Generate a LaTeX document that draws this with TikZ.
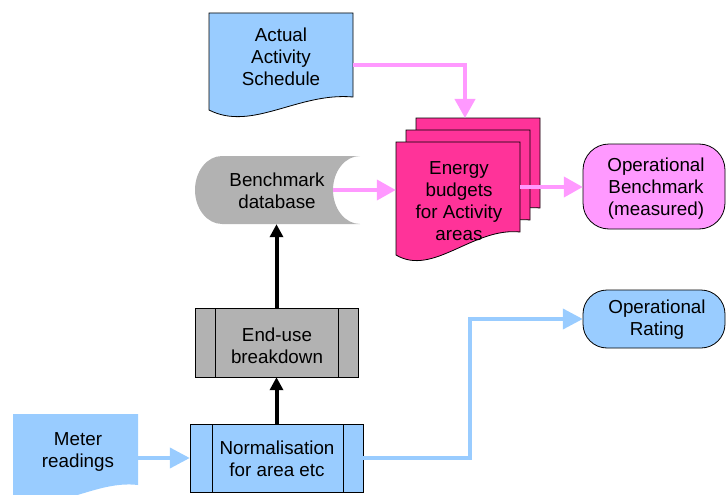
\documentclass[tikz,border=0pt]{standalone}
\usepackage{fontspec}
\setmainfont{Liberation Sans}
\usetikzlibrary{arrows.meta}
\definecolor{lblue}{HTML}{99CCFF}
\definecolor{lpink}{HTML}{FF99FF}
\definecolor{hpink}{HTML}{FF3399}
\definecolor{lgrey}{HTML}{B2B2B2}
\begin{document}
\begin{tikzpicture}[x=1pt,y=-1pt,
  txt/.style={font=\fontsize{18.8}{22}\selectfont, align=center, inner sep=0pt},
  area/.style 2 args={inner sep=0pt, minimum width=#1, minimum height=#2},
  outline/.style={draw=black, line width=0.8pt},
  pinkarrow/.style={draw=lpink, line width=4pt, -{Triangle[length=19pt,width=20pt]}},
  bluearrow/.style={draw=lblue, line width=4pt, -{Triangle[length=20pt,width=20pt]}},
  blackarrow/.style={draw=black, line width=4pt, -{Triangle[length=13pt,width=13pt]}}]
\useasboundingbox (0,0) rectangle (726,495);
\clip (0,0) rectangle (726,495);

% ---- shapes ----
% Actual Activity Schedule (document)
\path[fill=lblue, outline] (209,13) -- (353,13) -- (353,97)
  .. controls (298,92) and (252,132) .. (209,110) -- cycle;
% Energy budgets stack (multi-document)
\foreach \dx/\dy in {20/-24, 10/-12}{
  \begin{scope}[shift={(\dx,\dy)}]
    \path[fill=hpink, outline] (396,142) -- (520,142) -- (520,232)
      .. controls (473,227) and (433,277) .. (396,255) -- cycle;
  \end{scope}
}
\path[fill=hpink, outline] (396,142) -- (520,142) -- (520,232)
  .. controls (473,227) and (433,277) .. (396,255) -- cycle;
% Benchmark database (stored data)
\path[fill=lgrey] (222,156) -- (360,156)
  .. controls (345.1,156) and (333,171.2) .. (333,190)
  .. controls (333,208.8) and (345.1,224) .. (360,224)
  -- (222,224)
  .. controls (207.1,224) and (195,208.8) .. (195,190)
  .. controls (195,171.2) and (207.1,156) .. (222,156) -- cycle;
% Operational Benchmark (terminator)
\path[fill=lpink, outline, rounded corners=26pt] (583,144) rectangle (725,229);
% Operational Rating (terminator)
\path[fill=lblue, outline, rounded corners=24pt] (583,290) rectangle (725,348);
% End-use breakdown (predefined process)
\path[fill=lgrey, outline] (195,308) rectangle (358,377);
\draw[outline] (215,308) -- (215,377) (338,308) -- (338,377);
% Normalisation (predefined process)
\path[fill=lblue, outline] (190,424) rectangle (363,492);
\draw[outline] (212,424) -- (212,492) (343,424) -- (343,492);
% Meter readings (document)
\path[fill=lblue] (13,414) -- (138,414) -- (138,485)
  .. controls (95,480) and (60,512) .. (13,500) -- cycle;

% ---- named areas of the shapes ----
\node[area={144pt}{99pt}] (sched) at (281,62.5) {};
\node[area={124pt}{113pt}] (stack) at (458,198.5) {};
\node[area={165pt}{68pt}] (db) at (277.5,190) {};
\node[area={142pt}{85pt}] (opb) at (654,187) {};
\node[area={142pt}{58pt}] (opr) at (654,319) {};
\node[area={163pt}{69pt}] (enduse) at (276.5,342.5) {};
\node[area={173pt}{68pt}] (norm) at (276.5,458) {};
\node[area={125pt}{81pt}] (meter) at (75.5,454.5) {};
\coordinate (stacktop) at (465,118);

% ---- texts ----
\node[txt] (schedtxt) at (281,57) {Actual\\Activity\\Schedule};
\node[txt] (stacktxt) at (459,201) {Energy\\budgets\\for Activity\\areas};
\node[txt] (dbtxt) at (277,191) {Benchmark\\database};
\node[txt] (opbtxt) at (656,189) {Operational\\Benchmark\\(measured)};
\node[txt] (oprtxt) at (657,320) {Operational\\Rating};
\node[txt] (endusetxt) at (277,346) {End-use\\breakdown};
\node[txt] (normtxt) at (277,459) {Normalisation\\for area etc};
\node[txt] (metertxt) at (78,452) {Meter\\readings};

% ---- connectors ----
\draw[pinkarrow] ([yshift=-2.5pt]sched.east) -| (stacktop);
\draw[pinkarrow] ([xshift=-27pt]db.east) -- (stack.west |- db.east);
\draw[pinkarrow] (stack.east |- opb.west) -- (opb.west);
\draw[blackarrow] (enduse.north) -- (enduse.north |- db.south);
\draw[blackarrow] (norm.north) -- (norm.north |- enduse.south);
\draw[bluearrow] (meter.east |- norm.west) -- (norm.west);
\draw[bluearrow] (norm.east) -- ([xshift=107pt]norm.east) |- (opr.west);
\end{tikzpicture}
\end{document}
